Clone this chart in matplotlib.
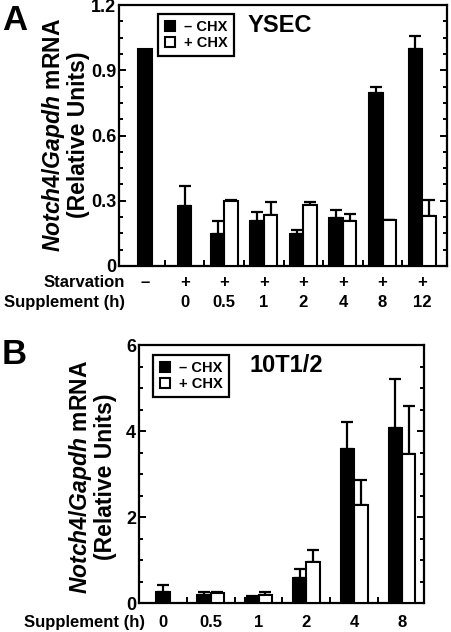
import numpy as np
import matplotlib
matplotlib.use("Agg")
import matplotlib.pyplot as plt
from matplotlib.lines import Line2D
from matplotlib.ticker import MultipleLocator, FuncFormatter
import matplotlib.transforms as mtransforms

plt.rcParams['font.family'] = ['Liberation Sans', 'DejaVu Sans']
plt.rcParams['font.weight'] = 'bold'
plt.rcParams['mathtext.fontset'] = 'custom'
plt.rcParams['mathtext.it'] = 'Liberation Sans:italic:bold'
plt.rcParams['mathtext.rm'] = 'Liberation Sans:bold'
plt.rcParams['mathtext.bf'] = 'Liberation Sans:bold'

# =============================================================================
# Data
# =============================================================================

# Panel A - YSEC
starvation_a = ['–', '+', '+', '+', '+', '+', '+', '+']
supplement_a = ['', '0', '0.5', '1', '2', '4', '8', '12']
a_minus = [1.0, 0.276, 0.147, 0.207, 0.147, 0.220, 0.795, 0.998]
a_minus_err = [0.0, 0.092, 0.060, 0.041, 0.019, 0.037, 0.028, 0.059]
a_plus = [np.nan, np.nan, 0.299, 0.234, 0.280, 0.207, 0.210, 0.230]
a_plus_err = [np.nan, np.nan, 0.003, 0.060, 0.012, 0.032, 0.003, 0.073]

# Panel B - 10T1/2
supplement_b = ['0', '0.5', '1', '2', '4', '8']
b_minus = [0.26, 0.19, 0.12, 0.57, 3.59, 4.08]
b_minus_err = [0.15, 0.07, 0.05, 0.21, 0.62, 1.13]
b_plus = [np.nan, 0.23, 0.19, 0.95, 2.28, 3.47]
b_plus_err = [np.nan, 0.03, 0.07, 0.29, 0.57, 1.10]

YLABEL = "$\\mathit{Notch4/Gapdh}$ mRNA\n(Relative Units)"


def draw_bars(ax, minus, minus_err, plus, plus_err, width):
    """Black (-CHX) and white (+CHX) bars with upward-only error bars."""
    err_kw = dict(fmt='none', ecolor='black', elinewidth=1.6, capsize=4, capthick=1.6, zorder=2)
    for i, (m, me, p, pe) in enumerate(zip(minus, minus_err, plus, plus_err)):
        if np.isnan(p):
            xm = i
        else:
            xm = i - width / 2
            xp = i + width / 2
            ax.bar(xp, p, width, color='white', edgecolor='black', linewidth=1.5, zorder=3)
            if pe > 0:
                ax.errorbar(xp, p, yerr=[[0], [pe]], **err_kw)
        ax.bar(xm, m, width, color='black', edgecolor='black', linewidth=1.5, zorder=3)
        if me > 0:
            ax.errorbar(xm, m, yerr=[[0], [me]], **err_kw)


def style_axes(ax, n, major, minor):
    for s in ax.spines.values():
        s.set_linewidth(1.6)
    ax.set_xticks(np.arange(n - 1) + 0.5)
    ax.tick_params(axis='x', direction='in', length=4, width=1.4, labelbottom=False)
    ax.yaxis.set_major_locator(MultipleLocator(major))
    ax.yaxis.set_minor_locator(MultipleLocator(minor))
    ax.yaxis.set_major_formatter(FuncFormatter(lambda v, pos: '%g' % round(v, 3)))
    ax.tick_params(axis='y', which='major', direction='in', length=5, width=1.4,
                   left=True, right=True, labelsize=13, pad=2)
    ax.tick_params(axis='y', which='minor', direction='in', length=3, width=1.4,
                   left=True, right=True)


def add_legend(ax, anchor):
    handles = [Line2D([], [], marker='s', ls='none', ms=7, mfc='black', mec='black', mew=1.5),
               Line2D([], [], marker='s', ls='none', ms=7, mfc='white', mec='black', mew=1.5)]
    leg = ax.legend(handles, ['– CHX', '+ CHX'], loc='upper left', bbox_to_anchor=anchor,
                    borderaxespad=0, fancybox=False, framealpha=1, edgecolor='black',
                    prop={'size': 10.5, 'weight': 'bold'}, handlelength=0.8, handletextpad=0.6,
                    labelspacing=0.15, borderpad=0.4)
    leg.get_frame().set_linewidth(1.6)


fig = plt.figure(figsize=(4.52, 6.32), dpi=100)

# =============================================================================
# Panel A
# =============================================================================
axA = fig.add_axes([119 / 452, 1 - 266 / 632, 328 / 452, 261 / 632])
draw_bars(axA, a_minus, a_minus_err, a_plus, a_plus_err, 0.34)
axA.set_xlim(-0.66, 7.63)
axA.set_ylim(0, 1.2)
style_axes(axA, len(a_minus), 0.3, 0.075)
add_legend(axA, (0.119, 0.966))
axA.text(0.49, 0.923, 'YSEC', transform=axA.transAxes, ha='center', va='center', fontsize=17)

trA = mtransforms.blended_transform_factory(axA.transData, axA.transAxes)
for i, (st, su) in enumerate(zip(starvation_a, supplement_a)):
    axA.text(i, -0.065, st, transform=trA, ha='center', va='center', fontsize=12)
    axA.text(i, -0.14, su, transform=trA, ha='center', va='center', fontsize=12)
axA.text(0.018, -0.065, 'Starvation', transform=axA.transAxes, ha='right', va='center', fontsize=12)
axA.text(0.018, -0.14, 'Supplement (h)', transform=axA.transAxes, ha='right', va='center', fontsize=12)

fig.text(65 / 452, 1 - 135 / 632, YLABEL, rotation=90, ha='center', va='center',
         fontsize=16.5, linespacing=1.0, multialignment='center')
fig.text(2 / 452, 1 - 20 / 632, 'A', ha='left', va='center', fontsize=25)

# =============================================================================
# Panel B
# =============================================================================
axB = fig.add_axes([139 / 452, 1 - 603 / 632, 285 / 452, 258 / 632])
draw_bars(axB, b_minus, b_minus_err, b_plus, b_plus_err, 0.28)
axB.set_xlim(-0.5, 5.46)
axB.set_ylim(0, 6)
style_axes(axB, len(b_minus), 2, 0.5)
add_legend(axB, (0.049, 0.961))
axB.text(0.516, 0.922, '10T1/2', transform=axB.transAxes, ha='center', va='center', fontsize=17)

trB = mtransforms.blended_transform_factory(axB.transData, axB.transAxes)
for i, su in enumerate(supplement_b):
    axB.text(i, -0.0775, su, transform=trB, ha='center', va='center', fontsize=12)
axB.text(0.021, -0.0775, 'Supplement (h)', transform=axB.transAxes, ha='right', va='center', fontsize=12)

fig.text(92 / 452, 1 - 477 / 632, YLABEL, rotation=90, ha='center', va='center',
         fontsize=16.5, linespacing=1.0, multialignment='center')
fig.text(2 / 452, 1 - 354 / 632, 'B', ha='left', va='center', fontsize=25)

fig.savefig('out.png', dpi=100)
